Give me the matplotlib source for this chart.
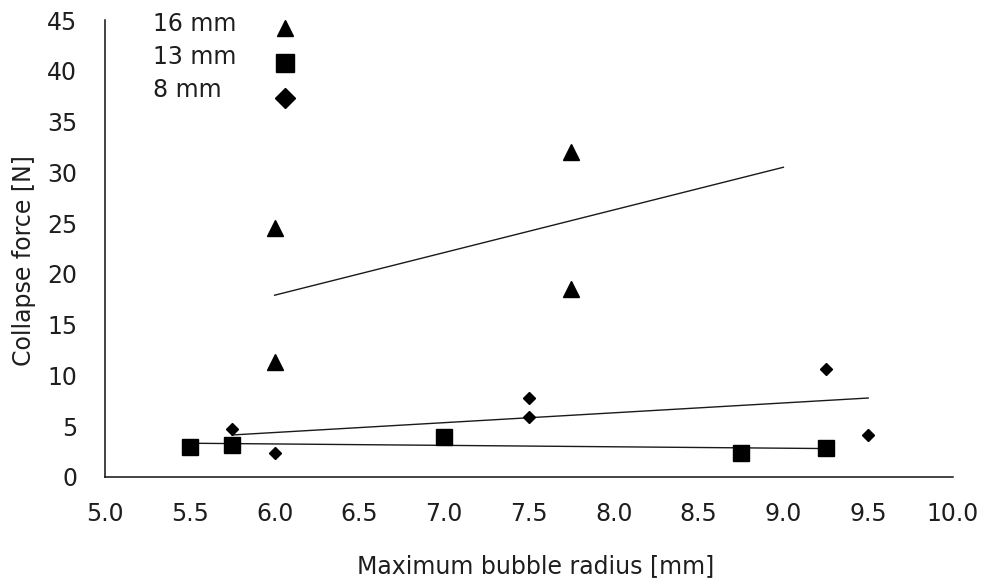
import numpy as np
import matplotlib
matplotlib.use("Agg")
import matplotlib.pyplot as plt
from matplotlib.lines import Line2D

# collapse force vs. max bubble radius, three nozzle sizes
r16 = [6.0, 6.0, 7.75, 7.75]
f16 = [24.5, 11.3, 32.0, 18.5]
r13 = [5.5, 5.75, 7.0, 8.75, 9.25]
f13 = [3.0, 3.2, 3.9, 2.4, 2.9]
r8 = [5.75, 6.0, 7.5, 7.5, 9.25, 9.5]
f8 = [4.7, 2.4, 7.8, 5.9, 10.6, 4.1]

labels = ["16 mm", "13 mm", "8 mm"]
# x extent of each linear trendline
fit_ranges = [(6.0, 9.0), (5.5, 9.25), (5.75, 9.5)]

xticks = [5.0, 5.5, 6.0, 6.5, 7.0, 7.5, 8.0, 8.5, 9.0, 9.5, 10.0]
yticks = [0, 5, 10, 15, 20, 25, 30, 35, 40, 45]

plt.rcParams['font.family'] = ['DejaVu Sans']
txt = '#1e1e1e'
fs = 17
W, H = 987, 586

fig = plt.figure(figsize=(W / 100, H / 100), dpi=100)
ax = fig.add_axes([105 / W, 1 - 477 / H, 848 / W, 457 / H])

series = [(r16, f16, '^', 11), (r13, f13, 's', 11.5), (r8, f8, 'D', 6.6)]
legend_ms = [12.2, 13, 10.2]
handles = []
for (x, y, m, ms), lms, (x0, x1) in zip(series, legend_ms, fit_ranges):
    ax.plot(x, y, linestyle='none', marker=m, ms=ms, color='black')
    handles.append(Line2D([], [], linestyle='none', marker=m, ms=lms, color='black'))
    k, b = np.polyfit(x, y, 1)
    xs = np.array([x0, x1])
    ax.plot(xs, k * xs + b, color='#1a1a1a', lw=1.0, zorder=1)

ax.set_xlim(5.0, 10.0)
ax.set_ylim(0, 45)
ax.set_xticks(xticks)
ax.set_xticklabels([f"{v:.1f}" for v in xticks])
ax.set_yticks(yticks)
ax.tick_params(length=0, labelsize=fs, colors=txt)
ax.tick_params(axis='y', pad=20)
ax.tick_params(axis='x', pad=18)
for s in ['top', 'right']:
    ax.spines[s].set_visible(False)
for s in ['left', 'bottom']:
    ax.spines[s].set_linewidth(1.1)
    ax.spines[s].set_color('#111111')

ax.set_xlabel("Maximum bubble radius [mm]", fontsize=fs, color=txt, labelpad=20)
ax.set_ylabel("Collapse force [N]", fontsize=fs, color=txt, labelpad=8)
ax.xaxis.label.set_x(0.508)
ax.yaxis.label.set_y(0.473)

# legend: labels in one column, markers in a column to the right
blank = [Line2D([], [], linestyle='none') for _ in labels]
fig.legend(blank, labels, loc='upper left', bbox_to_anchor=(153 / W, 1 - 12 / H),
           bbox_transform=fig.transFigure, frameon=False, fontsize=fs,
           handlelength=0, handletextpad=0, labelspacing=0.38,
           borderpad=0, borderaxespad=0, labelcolor=txt)
fig.legend(handles, ['', '', ''], loc='upper left', bbox_to_anchor=(273 / W, 1 - 17 / H),
           bbox_transform=fig.transFigure, frameon=False, fontsize=fs,
           handlelength=1.0, handletextpad=0, labelspacing=0.47,
           borderpad=0, borderaxespad=0)

fig.savefig("out.png", dpi=100)
